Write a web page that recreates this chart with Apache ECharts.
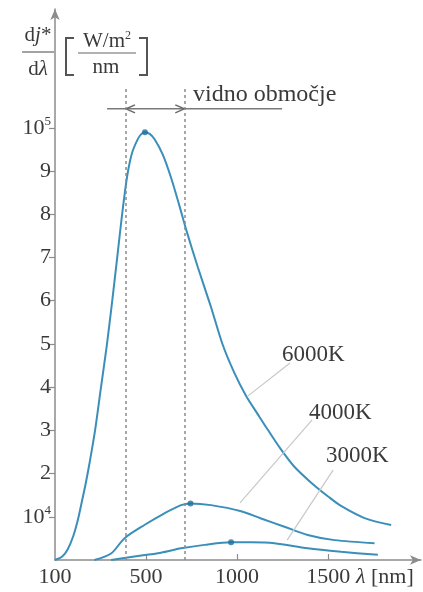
<!DOCTYPE html>
<html><head><meta charset="utf-8">
<script src="https://cdn.jsdelivr.net/npm/echarts@6/dist/echarts.min.js"></script>
<style>html,body{margin:0;padding:0;background:#fff}#c{width:423px;height:592px}</style>
</head><body><div id="c"></div>
<script>
// wavelength [nm], spectral emittance [x10^4 W/m^2/nm]
const curve6000K = [[0,0],[40,0.08],[70,0.25],[100,0.55],[125,0.92],[150,1.4],[170,1.8],[190,2.25],[220,3.0],[251,3.95],[284,4.95],[313,5.95],[341,6.98],[368,7.98],[385,8.55],[399,8.95],[413,9.25],[427,9.47],[456,9.75],[475,9.86],[494,9.9],[520,9.86],[546,9.74],[592,9.38],[637,8.85],[683,8.2],[720,7.65],[784,6.78],[857,5.85],[921,4.98],[985,4.33],[1049,3.8],[1114,3.37],[1166,3.03],[1239,2.57],[1312,2.17],[1407,1.79],[1500,1.47],[1571,1.25],[1700,0.97],[1846,0.81]];
const curve4000K = [[216,0],[308,0.15],[381,0.5],[491,0.81],[601,1.08],[692,1.27],[744,1.31],[857,1.27],[1022,1.13],[1132,0.96],[1260,0.77],[1388,0.58],[1535,0.46],[1755,0.39]];
const curve3000K = [[308,0],[436,0.08],[582,0.17],[692,0.27],[821,0.35],[967,0.41],[1077,0.41],[1205,0.39],[1388,0.27],[1571,0.19],[1773,0.12]];
const peaks = [[494,9.9],[744,1.31],[967,0.41]];
const visibleRange = [390, 710];
const xTickValues = [0, 500, 1000, 1500];
const xTickLabels = ['100', '500', '1000', '1500'];
const yTickValues = [1,2,3,4,5,6,7,8,9,10];
const yTickLabels = ['10{sup|4}','2','3','4','5','6','7','8','9','10{sup|5}'];
const seriesNames = ['6000K', '4000K', '3000K'];
// leader lines from labels to curves [label end, curve end]
const leader6000 = [[1291,4.56],[1055,3.78]];
const leader4000 = [[1412,3.24],[1016,1.32]];
const leader3000 = [[1527,2.08],[1275,0.46]];

const SERIF = '"Liberation Serif","DejaVu Serif",serif';
const AX = '#8c8c8c';
const LINE = '#3a8fba';
const TXT = '#3a3a3a';

const chart = echarts.init(document.getElementById('c'), null, {renderer:'canvas'});

const leaderStyle = {color:'#c8c8c8', width:1.2, type:'solid'};
function leader(pts){
  return [{coord: pts[0], lineStyle:leaderStyle}, {coord: pts[1]}];
}

const option = {
  animation:false,
  backgroundColor:'#fff',
  grid:{left:55, right:2, top:9, bottom:32, containLabel:false},
  xAxis:{
    type:'value', min:0, max:2010, interval:500,
    axisLine:{show:true, onZero:false, symbol:['none','arrow'], symbolSize:[7,11], lineStyle:{color:AX, width:1.5}},
    axisTick:{show:true, inside:true, length:6, customValues:[500,1000,1500], lineStyle:{color:AX, width:1.2}},
    axisLabel:{customValues:xTickValues, formatter:(v)=>{const i=xTickValues.indexOf(v); return i>=0?xTickLabels[i]:'';},
      fontFamily:SERIF, fontSize:22, color:TXT, margin:6},
    splitLine:{show:false}
  },
  yAxis:{
    type:'value', min:0, max:12.75, interval:1,
    axisLine:{show:true, onZero:false, symbol:['none','arrow'], symbolSize:[7,11], lineStyle:{color:AX, width:1.5}},
    axisTick:{show:true, inside:false, length:6, customValues:yTickValues, lineStyle:{color:AX, width:1.2}},
    axisLabel:{customValues:yTickValues, formatter:(v)=>{const i=yTickValues.indexOf(v); return i>=0?yTickLabels[i]:'';},
      fontFamily:SERIF, fontSize:22, color:TXT, margin:4,
      rich:{sup:{fontFamily:SERIF, fontSize:13, color:TXT, verticalAlign:'top', padding:[0,0,12,0]}}},
    splitLine:{show:false}
  },
  series:[
    {name:seriesNames[0], type:'line', data:curve6000K, smooth:0.3, showSymbol:false,
      lineStyle:{color:LINE, width:2}, z:3,
      markLine:{silent:true, symbol:['none','none'], label:{show:false},
        lineStyle:{color:'#8a8a8a', width:1.5, type:[3,3]},
        data:[
          [{coord:[visibleRange[0],0]},{coord:[visibleRange[0],10.9]}],
          [{coord:[visibleRange[1],0]},{coord:[visibleRange[1],10.9]}],
          leader(leader6000)
        ]
      }},
    {name:seriesNames[1], type:'line', data:curve4000K, smooth:0.3, showSymbol:false,
      lineStyle:{color:LINE, width:2}, z:3,
      markLine:{silent:true, symbol:['none','none'], label:{show:false}, lineStyle:leaderStyle, data:[leader(leader4000)]}},
    {name:seriesNames[2], type:'line', data:curve3000K, smooth:0.3, showSymbol:false,
      lineStyle:{color:LINE, width:2}, z:3,
      markLine:{silent:true, symbol:['none','none'], label:{show:false}, lineStyle:leaderStyle, data:[leader(leader3000)]}},
    {type:'scatter', data:peaks, symbolSize:6, itemStyle:{color:'#1e6f9c'}, z:4}
  ]
};
chart.setOption(option);

const px = (p)=>chart.convertToPixel({gridIndex:0}, p);
const arrowV = 10.44;
const aL = px([286, arrowV]), aR = px([1247, arrowV]);
const tL = px([visibleRange[0], arrowV]), tR = px([visibleRange[1], arrowV]);

chart.setOption({graphic:[
  // visible range arrow
  {type:'line', shape:{x1:aL[0], y1:aL[1], x2:aR[0], y2:aR[1]}, style:{stroke:'#7a7a7a', lineWidth:1.5}},
  {type:'polyline', shape:{points:[[tL[0]+9,tL[1]-4],[tL[0],tL[1]],[tL[0]+9,tL[1]+4]]}, style:{stroke:'#6a6a6a', lineWidth:1.5, fill:null}},
  {type:'polyline', shape:{points:[[tR[0]-9,tR[1]-4],[tR[0],tR[1]],[tR[0]-9,tR[1]+4]]}, style:{stroke:'#6a6a6a', lineWidth:1.5, fill:null}},
  {type:'text', style:{text:'vidno območje', x:193, y:95, fill:TXT, font:'24px '+SERIF, verticalAlign:'middle'}},
  // curve labels
  {type:'text', style:{text:seriesNames[0], x:282, y:355, fill:TXT, font:'23px '+SERIF, verticalAlign:'middle'}},
  {type:'text', style:{text:seriesNames[1], x:309, y:413, fill:TXT, font:'23px '+SERIF, verticalAlign:'middle'}},
  {type:'text', style:{text:seriesNames[2], x:326, y:456, fill:TXT, font:'23px '+SERIF, verticalAlign:'middle'}},
  // x axis name
  {type:'text', style:{text:'{i|λ} [nm]', x:356, y:577, fill:TXT, font:'22px '+SERIF, verticalAlign:'middle',
    rich:{i:{font:'italic 22px '+SERIF, fill:TXT}}}},
  // y axis title: dj*/dλ [W/m²/nm]
  {type:'text', style:{text:'d{i|j}*', x:38, y:35, fill:TXT, font:'21px '+SERIF, align:'center', verticalAlign:'middle',
    rich:{i:{font:'italic 21px '+SERIF, fill:TXT}}}},
  {type:'line', shape:{x1:22, y1:52, x2:54, y2:52}, style:{stroke:'#666', lineWidth:1.2}},
  {type:'text', style:{text:'d{i|λ}', x:38, y:69, fill:TXT, font:'21px '+SERIF, align:'center', verticalAlign:'middle',
    rich:{i:{font:'italic 21px '+SERIF, fill:TXT}}}},
  {type:'polyline', shape:{points:[[74,38],[66,38],[66,75],[74,75]]}, style:{stroke:'#555', lineWidth:2, fill:null}},
  {type:'polyline', shape:{points:[[139,38],[147,38],[147,75],[139,75]]}, style:{stroke:'#555', lineWidth:2, fill:null}},
  {type:'text', style:{text:'W/m{s|2}', x:107, y:41, fill:TXT, font:'21px '+SERIF, align:'center', verticalAlign:'middle',
    rich:{s:{font:'12px '+SERIF, fill:TXT, verticalAlign:'top', padding:[0,0,10,0]}}}},
  {type:'line', shape:{x1:78, y1:53, x2:136, y2:53}, style:{stroke:'#666', lineWidth:1.2}},
  {type:'text', style:{text:'nm', x:106, y:67, fill:TXT, font:'21px '+SERIF, align:'center', verticalAlign:'middle'}}
]});
</script>
</body></html>
